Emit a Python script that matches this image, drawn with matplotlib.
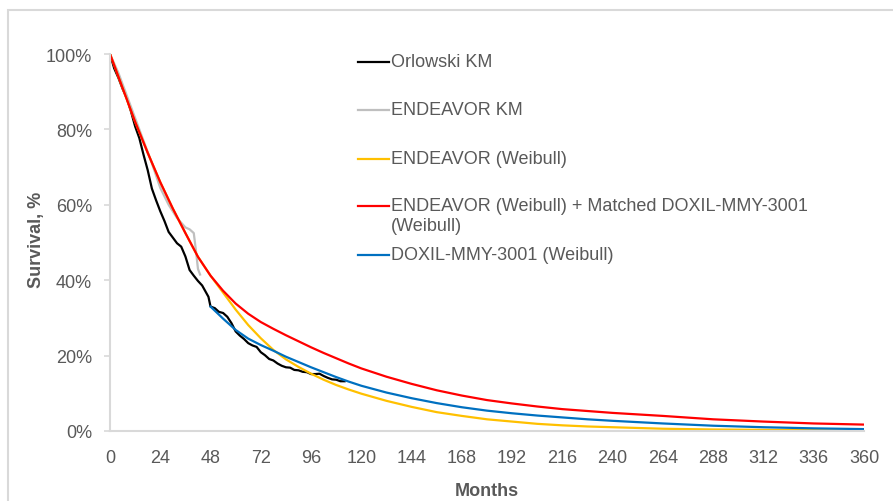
import matplotlib
matplotlib.use("Agg")
import matplotlib.pyplot as plt
from matplotlib.lines import Line2D
from matplotlib.patches import Rectangle

plt.rcParams['font.family'] = ['Liberation Sans', 'DejaVu Sans']

# survival (fraction surviving)
orlowskiMonths = [0, 2, 4, 6, 8, 10, 12, 14, 16, 18, 20, 22, 24, 26, 28, 30, 32, 34, 36, 38,
                  40, 42, 44, 46, 47, 48, 50, 52, 54, 56, 58, 60, 62, 64, 66, 68, 70, 72, 74,
                  76, 78, 80, 82, 84, 86, 88, 90, 92, 94, 96, 98, 100, 102, 104, 106, 108, 110, 112]
orlowskiSurv = [1.0, 0.962, 0.937, 0.908, 0.883, 0.848, 0.808, 0.777, 0.733, 0.692, 0.643, 0.612,
                0.583, 0.557, 0.528, 0.513, 0.498, 0.489, 0.463, 0.427, 0.412, 0.398, 0.386, 0.366,
                0.356, 0.33, 0.326, 0.316, 0.313, 0.303, 0.286, 0.264, 0.253, 0.244, 0.233,
                0.227, 0.223, 0.209, 0.201, 0.191, 0.187, 0.179, 0.173, 0.169, 0.168, 0.162, 0.161,
                0.157, 0.156, 0.151, 0.151, 0.152, 0.146, 0.141, 0.137, 0.136, 0.132, 0.132]

endeavorKmMonths = [0, 4, 8, 12, 16, 20, 24, 28, 32, 36, 38, 40, 41, 42, 43]
endeavorKmSurv = [1.0, 0.95, 0.89, 0.83, 0.77, 0.71, 0.645, 0.6, 0.565, 0.54, 0.535, 0.525,
                  0.48, 0.43, 0.415]

fitMonths = [0, 6, 12, 18, 24, 30, 36, 42, 48, 54, 60, 66, 72, 78, 84, 90, 96, 102, 108, 114,
             120, 132, 144, 156, 168, 180, 192, 204, 216, 228, 240, 264, 288, 312, 336, 360]
endeavorWeibull = [1.0, 0.91, 0.82, 0.738, 0.66, 0.59, 0.525, 0.462, 0.412, 0.367, 0.322,
                   0.281, 0.246, 0.215, 0.19, 0.17, 0.152, 0.136, 0.122, 0.11, 0.099, 0.08,
                   0.064, 0.05, 0.04, 0.031, 0.025, 0.019, 0.015, 0.012, 0.01, 0.006, 0.004,
                   0.003, 0.002, 0.001]
combinedWeibull = [1.0, 0.91, 0.82, 0.738, 0.66, 0.59, 0.525, 0.462, 0.412, 0.372, 0.338,
                   0.311, 0.289, 0.271, 0.254, 0.238, 0.222, 0.207, 0.193, 0.179, 0.166, 0.144,
                   0.125, 0.108, 0.094, 0.082, 0.073, 0.065, 0.058, 0.053, 0.048, 0.04,
                   0.031, 0.025, 0.02, 0.017]

doxilMonths = [48, 54, 60, 66, 72, 78, 84, 90, 96, 102, 108, 114, 120, 132, 144, 156, 168,
               180, 192, 204, 216, 228, 240, 264, 288, 312, 336, 360]
doxilWeibull = [0.33, 0.298, 0.268, 0.245, 0.228, 0.213, 0.197, 0.183, 0.169, 0.156, 0.143,
                0.131, 0.12, 0.102, 0.087, 0.074, 0.063, 0.054, 0.047, 0.041, 0.036, 0.031,
                0.027, 0.02, 0.014, 0.01, 0.007, 0.005]

seriesNames = ['Orlowski KM', 'ENDEAVOR KM', 'ENDEAVOR (Weibull)',
               'ENDEAVOR (Weibull) + Matched DOXIL-MMY-3001\n(Weibull)',
               'DOXIL-MMY-3001 (Weibull)']
seriesColors = ['#000000', '#bfbfbf', '#ffc000', '#ff0000', '#0070c0']

W, H = 893, 502
txtColor = '#595959'
axisColor = '#d9d9d9'

fig = plt.figure(figsize=(W / 100, H / 100), dpi=100)
ax = fig.add_axes([110 / W, 1 - 432 / H, 754 / W, 377 / H])

lw = 1.6
ax.plot(orlowskiMonths, orlowskiSurv, color=seriesColors[0], lw=lw)
ax.plot(endeavorKmMonths, endeavorKmSurv, color=seriesColors[1], lw=lw)
ax.plot(fitMonths, endeavorWeibull, color=seriesColors[2], lw=lw)
ax.plot(fitMonths, combinedWeibull, color=seriesColors[3], lw=lw)
ax.plot(doxilMonths, doxilWeibull, color=seriesColors[4], lw=lw)

ax.set_xlim(0, 360)
ax.set_ylim(0, 1)
ax.set_xticks(range(0, 361, 24))
ax.set_yticks([0, 0.2, 0.4, 0.6, 0.8, 1.0])
ax.set_yticklabels(['0%', '20%', '40%', '60%', '80%', '100%'])
ax.tick_params(axis='x', length=0, pad=13, labelsize=13, labelcolor=txtColor)
ax.tick_params(axis='y', length=4, width=1.2, color=axisColor, pad=9, labelsize=13,
               labelcolor=txtColor)

for side in ['top', 'right']:
    ax.spines[side].set_visible(False)
for side in ['left', 'bottom']:
    ax.spines[side].set_color(axisColor)
    ax.spines[side].set_linewidth(1.5)

ax.set_xlabel('Months', fontsize=13, fontweight='bold', color=txtColor, va='center')
ax.xaxis.set_label_coords(0.5, -0.159)
ax.set_ylabel('Survival, %', fontsize=13, fontweight='bold', color=txtColor, va='center')
ax.yaxis.set_label_coords(-0.098, 0.509)

# legend drawn by hand (Excel layout, one entry wraps to two lines)
legendY = [63, 111, 160, 207, 256]
for name, col, y in zip(seriesNames, seriesColors, legendY):
    fig.add_artist(Line2D([358 / W, 389 / W], [1 - y / H, 1 - y / H], color=col, lw=lw))
    fig.text(391 / W, 1 - (y - 9) / H, name, fontsize=13, color=txtColor, va='top',
             linespacing=1.2)

# outer chart frame
fig.add_artist(Rectangle((8 / W, -0.1), 1.2, 1.1 - 11 / H, fill=False, ec=axisColor, lw=1.5,
                         transform=fig.transFigure))

fig.savefig('out.png', dpi=100)
